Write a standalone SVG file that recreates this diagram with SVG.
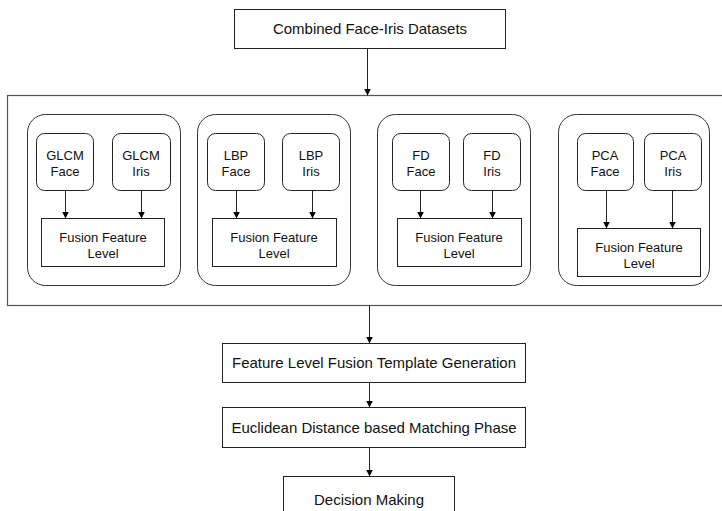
<svg xmlns="http://www.w3.org/2000/svg" width="722" height="511" viewBox="0 0 722 511">
<defs>
<marker id="arr" markerWidth="8" markerHeight="8" refX="7" refY="4" orient="auto" markerUnits="userSpaceOnUse">
<path d="M0,0.5 L7,4 L0,7.5 Z" fill="#000"/>
</marker>
<style>
.box{fill:#fff;stroke:#222;stroke-width:1}
.grp{fill:#fff;stroke:#333;stroke-width:1}
.big{fill:#fff;stroke:#555;stroke-width:1.2}
.t15{font-family:"Liberation Sans",Arial,sans-serif;font-size:15px;fill:#111;text-anchor:middle}
.t13{font-family:"Liberation Sans",Arial,sans-serif;font-size:13px;fill:#111;text-anchor:middle}
.con{stroke:#222;stroke-width:1;fill:none;marker-end:url(#arr)}
</style>
</defs>
<rect width="722" height="511" fill="#fff"/>

<g id="datasets">
<rect class="box" x="234.5" y="9.5" width="271" height="39"/>
<text class="t15" x="370" y="34">Combined Face-Iris Datasets</text>
</g>

<g id="container">
<rect class="big" x="7.5" y="95.5" width="720" height="210"/>
</g>

<g id="glcm">
<rect class="grp" x="27.5" y="114.5" width="153" height="171" rx="18"/>
<g id="glcm-face"><rect class="box" x="36.5" y="133.5" width="57" height="57" rx="8"/>
<text class="t13" x="65" y="160">GLCM</text><text class="t13" x="65" y="176">Face</text></g>
<g id="glcm-iris"><rect class="box" x="112.5" y="133.5" width="58" height="57" rx="8"/>
<text class="t13" x="141" y="160">GLCM</text><text class="t13" x="141" y="176">Iris</text></g>
<g id="glcm-fusion"><rect class="box" x="41.5" y="218.5" width="123" height="48"/>
<text class="t13" x="103" y="242">Fusion Feature</text><text class="t13" x="103" y="258">Level</text></g>
</g>

<g id="lbp">
<rect class="grp" x="197.5" y="114.5" width="153" height="171" rx="18"/>
<g id="lbp-face"><rect class="box" x="207.5" y="133.5" width="57" height="57" rx="8"/>
<text class="t13" x="236" y="160">LBP</text><text class="t13" x="236" y="176">Face</text></g>
<g id="lbp-iris"><rect class="box" x="282.5" y="133.5" width="57" height="57" rx="8"/>
<text class="t13" x="311" y="160">LBP</text><text class="t13" x="311" y="176">Iris</text></g>
<g id="lbp-fusion"><rect class="box" x="212.5" y="218.5" width="124" height="48"/>
<text class="t13" x="274" y="242">Fusion Feature</text><text class="t13" x="274" y="258">Level</text></g>
</g>

<g id="fd">
<rect class="grp" x="377.5" y="114.5" width="153" height="171" rx="18"/>
<g id="fd-face"><rect class="box" x="392.5" y="133.5" width="57" height="57" rx="8"/>
<text class="t13" x="421" y="160">FD</text><text class="t13" x="421" y="176">Face</text></g>
<g id="fd-iris"><rect class="box" x="463.5" y="133.5" width="57" height="57" rx="8"/>
<text class="t13" x="492" y="160">FD</text><text class="t13" x="492" y="176">Iris</text></g>
<g id="fd-fusion"><rect class="box" x="397.5" y="218.5" width="124" height="48"/>
<text class="t13" x="459" y="242">Fusion Feature</text><text class="t13" x="459" y="258">Level</text></g>
</g>

<g id="pca">
<rect class="grp" x="558.5" y="114.5" width="151" height="171" rx="18"/>
<g id="pca-face"><rect class="box" x="577.5" y="133.5" width="56" height="57" rx="8"/>
<text class="t13" x="605" y="160">PCA</text><text class="t13" x="605" y="176">Face</text></g>
<g id="pca-iris"><rect class="box" x="644.5" y="133.5" width="57" height="57" rx="8"/>
<text class="t13" x="673" y="160">PCA</text><text class="t13" x="673" y="176">Iris</text></g>
<g id="pca-fusion"><rect class="box" x="577.5" y="228.5" width="123" height="48"/>
<text class="t13" x="639" y="252">Fusion Feature</text><text class="t13" x="639" y="268">Level</text></g>
</g>

<g id="template">
<rect class="box" x="222.5" y="343.5" width="303" height="39"/>
<text class="t15" x="374" y="368">Feature Level Fusion Template Generation</text>
</g>

<g id="matching">
<rect class="box" x="222.5" y="407.5" width="303" height="40"/>
<text class="t15" x="374" y="433">Euclidean Distance based Matching Phase</text>
</g>

<g id="decision">
<rect class="box" x="283.5" y="476.5" width="171" height="50"/>
<text class="t15" x="369" y="505">Decision Making</text>
</g>

<g id="connectors">
<line class="con" x1="367.5" y1="48.5" x2="367.5" y2="95.5"/>
<line class="con" x1="65.5" y1="190.5" x2="65.5" y2="218.5"/>
<line class="con" x1="141.5" y1="190.5" x2="141.5" y2="218.5"/>
<line class="con" x1="236.5" y1="190.5" x2="236.5" y2="218.5"/>
<line class="con" x1="312.5" y1="190.5" x2="312.5" y2="218.5"/>
<line class="con" x1="420.5" y1="190.5" x2="420.5" y2="218.5"/>
<line class="con" x1="492.5" y1="190.5" x2="492.5" y2="218.5"/>
<line class="con" x1="606.5" y1="190.5" x2="606.5" y2="228.5"/>
<line class="con" x1="672.5" y1="190.5" x2="672.5" y2="228.5"/>
<line class="con" x1="369.5" y1="305.5" x2="369.5" y2="343.5"/>
<line class="con" x1="369.5" y1="382.5" x2="369.5" y2="407.5"/>
<line class="con" x1="369.5" y1="447.5" x2="369.5" y2="476.5"/>
</g>
</svg>
